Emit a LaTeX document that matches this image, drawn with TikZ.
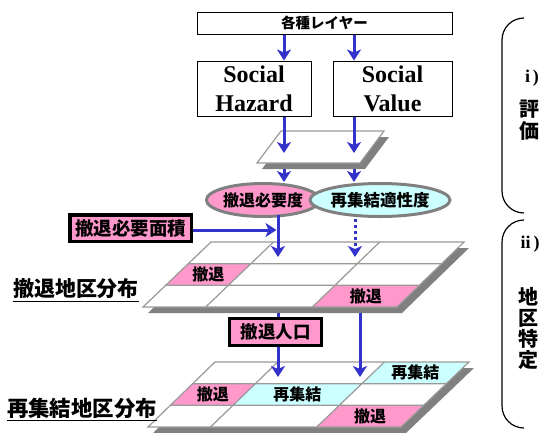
\documentclass[tikz,border=0pt]{standalone}
\usepackage{fontspec}
\setmainfont{Liberation Serif}
\newfontfamily\jp{Noto Sans CJK JP}
\usetikzlibrary{calc,arrows.meta,shapes.geometric}
\definecolor{pinkc}{HTML}{FF99CC}
\definecolor{cyanc}{HTML}{CCFFFF}
\definecolor{arrowc}{HTML}{3333CC}
\definecolor{shadowc}{HTML}{808080}
\definecolor{edgec}{HTML}{999999}
\newcommand\jfs[1]{\jp\bfseries\fontsize{#1}{#1}\selectfont}
\newcommand\sfs[1]{\rmfamily\bfseries\fontsize{#1}{#1}\selectfont}
\newcommand\mklayer[5]{%
  \coordinate (#1a) at #2;
  \coordinate (#1b) at #3;
  \coordinate (#1c) at #4;
  \coordinate (#1d) at #5;
  \fill[shadowc] ($(#1a)+(5,6)$) -- ($(#1b)+(5,6)$) -- ($(#1c)+(5,6)$) -- ($(#1d)+(5,6)$) -- cycle;
  \fill[white] (#1a) -- (#1b) -- (#1c) -- (#1d) -- cycle;
  \foreach \i/\u in {0/0,1/0.247,2/0.667,3/1}{%
    \foreach \j/\v in {0/0,1/0.3333,2/0.6667,3/1}{%
      \coordinate (#1-\i-\j) at ($($(#1a)!\u!(#1b)$)!\v!($(#1d)!\u!(#1c)$)$);
    }}%
}
\newcommand\gridlayer[1]{%
  \draw[gridln] (#1-0-1) -- (#1-3-1) (#1-0-2) -- (#1-3-2)
                (#1-1-0) -- (#1-1-3) (#1-2-0) -- (#1-2-3);
  \draw[gridln] (#1a) -- (#1b) -- (#1c) -- (#1d) -- cycle;
}
\newcommand\mkcell[8]{%
  \fill[#6] (#1-#2-#3) -- (#1-#4-#3) -- (#1-#4-#5) -- (#1-#2-#5) -- cycle;
  \node[celltext] (#7) at ($(#1-#2-#3)!0.5!(#1-#4-#5)$) {#8};
}
\tikzset{
  arr/.style={draw=arrowc, line width=3pt, -{Stealth[length=11pt,width=14pt,inset=3pt]}},
  arrline/.style={draw=arrowc, line width=3pt},
  dotarr/.style={arr, dash pattern=on 3pt off 3pt},
  plainbox/.style={draw=black, line width=1pt, fill=white, inner sep=0pt},
  pinkbox/.style={draw=black, line width=3.5pt, fill=pinkc, inner sep=0pt},
  oval/.style={ellipse, draw=shadowc, line width=3pt, inner sep=0pt},
  celltext/.style={font=\jfs{16}, inner sep=0pt},
  gridln/.style={draw=edgec, line width=1.2pt},
  brace/.style={draw=black, line width=1.2pt},
  sidetext/.style={font=\jfs{20}, inner sep=0pt},
  roman/.style={font=\sfs{18}, inner sep=0pt}
}
\begin{document}
\begin{tikzpicture}[x=1pt,y=-1pt]
\useasboundingbox (0,0) rectangle (544,432);
% x positions of arrows
\coordinate (c1) at (284,0);
\coordinate (c2) at (354,0);
\coordinate (c3) at (278,0);
\coordinate (c4) at (355,0);
\coordinate (c5) at (360,0);

% boxes
\node[plainbox, minimum width=255pt, minimum height=22pt, font=\jfs{14.5}] (top) at (324.5,23) {各種レイヤー};
\node[plainbox, minimum width=114pt, minimum height=55pt, align=center, font=\sfs{24}] (hz) at (254,88.5) {Social\\[5pt]Hazard};
\node[plainbox, minimum width=119pt, minimum height=55pt, align=center, font=\sfs{24}] (sv) at (392.5,88.5) {Social\\[5pt]Value};

% evaluation plane
\coordinate (pa) at (281,131);
\coordinate (pb) at (384,131);
\coordinate (pc) at (360,163);
\coordinate (pd) at (257,163);
\fill[shadowc] ($(pa)+(5,6)$) -- ($(pb)+(5,6)$) -- ($(pc)+(5,6)$) -- ($(pd)+(5,6)$) -- cycle;
\filldraw[fill=white, gridln] (pa) -- (pb) -- (pc) -- (pd) -- cycle;

% ellipses
\node[oval, fill=pinkc, minimum width=108pt, minimum height=33pt, font=\jfs{16}] (e1) at (263,200) {撤退必要度};
\node[oval, fill=cyanc, minimum width=113pt, minimum height=33pt, font=\jfs{16.5}] (e2) at (380,200) {再集結適性度};

% area box
\node[pinkbox, minimum width=121.5pt, minimum height=26.5pt, font=\jfs{18.5}] (area) at (130.5,228) {撤退必要面積};

% layer 1
\mklayer{L1}{(211,242)}{(464,242)}{(397,307)}{(143,307)}
\mkcell{L1}{0}{1}{1}{2}{pinkc}{l1c1}{撤退}
\mkcell{L1}{2}{2}{3}{3}{pinkc}{l1c2}{撤退}
\gridlayer{L1}

% layer 2
\mklayer{L2}{(215,362)}{(469,362)}{(401,427)}{(148,427)}
\mkcell{L2}{2}{0}{3}{1}{cyanc}{l2c1}{再集結}
\mkcell{L2}{0}{1}{1}{2}{pinkc}{l2c2}{撤退}
\mkcell{L2}{1}{1}{2}{2}{cyanc}{l2c3}{再集結}
\mkcell{L2}{2}{2}{3}{3}{pinkc}{l2c4}{撤退}
\gridlayer{L2}

% population box
\coordinate (popc) at (275.5,332);
\draw[arrline] ($(c3 |- L1d)+(0,6)$) coordinate (s1) -- (c3 |- popc);
\node[pinkbox, minimum width=92pt, minimum height=27pt, font=\jfs{17.5}] (pop) at (popc) {撤退人口};

% arrows
\draw[arr] (top.south -| c1) -- (hz.north -| c1);
\draw[arr] (top.south -| c2) -- (sv.north -| c2);
\coordinate (t1) at (284,153);
\coordinate (t2) at (354,153);
\draw[arr] (hz.south -| c1) -- (t1);
\draw[arr] (sv.south -| c2) -- (t2);
\coordinate (b1) at (284,169);
\coordinate (b2) at (354,169);
\draw[arr] (b1) -- (e1.north -| c1);
\draw[arr] (b2) -- (e2.north -| c2);
\coordinate (t3) at (278,257);
\coordinate (t4) at (355,257);
\draw[arrline] ($(e1.south -| c3)+(0,-3)$) -- (c3 |- area.east);
\coordinate (h1) at (276.5,230);
\draw[arr] (area.east |- h1) -- (h1);
\draw[arr] (c3 |- area.east) -- (t3);
\draw[dotarr] ($(e2.south -| c4)+(0,1)$) -- (t4);
\coordinate (t5) at (278,377);
\coordinate (t6) at (360,377);
\draw[arr] (pop.south -| c3) -- (t5);
\draw[arr] ($(c5 |- L1d)+(0,6)$) -- (t6);

% layer labels
\node[inner sep=0pt, font=\jfs{21}] (lab1) at (76,289) {撤退地区分布};
\draw[line width=1.5pt] ([yshift=-2pt]lab1.south west) -- ([yshift=-2pt]lab1.south east);
\node[inner sep=0pt, font=\jfs{21.4}] (lab2) at (82,408) {再集結地区分布};
\draw[line width=1.5pt] ([yshift=-2pt]lab2.south west) -- ([yshift=-2pt]lab2.south east);

% right side braces
\coordinate (br1a) at (524,18);
\coordinate (br1b) at (502,40);
\coordinate (br1c) at (502,191);
\coordinate (br1d) at (524,213);
\draw[brace] (br1a) to[out=180,in=90] (br1b) -- (br1c) to[out=-90,in=180] (br1d);
\coordinate (br2a) at (524,220);
\coordinate (br2b) at (502,242);
\coordinate (br2c) at (502,406);
\coordinate (br2d) at (524,428);
\draw[brace] (br2a) to[out=180,in=90] (br2b) -- (br2c) to[out=-90,in=180] (br2d);

\node[roman] (r1) at (532,78) {i\,)};
\node[sidetext] (s11) at (529,109) {評};
\node[sidetext] (s12) at (529,131) {価};
\node[roman] (r2) at (530,244) {ii\,)};
\node[sidetext] (s21) at (528,297) {地};
\node[sidetext] (s22) at (528,318) {区};
\node[sidetext] (s23) at (528,339) {特};
\node[sidetext] (s24) at (528,360) {定};
\end{tikzpicture}
\end{document}
